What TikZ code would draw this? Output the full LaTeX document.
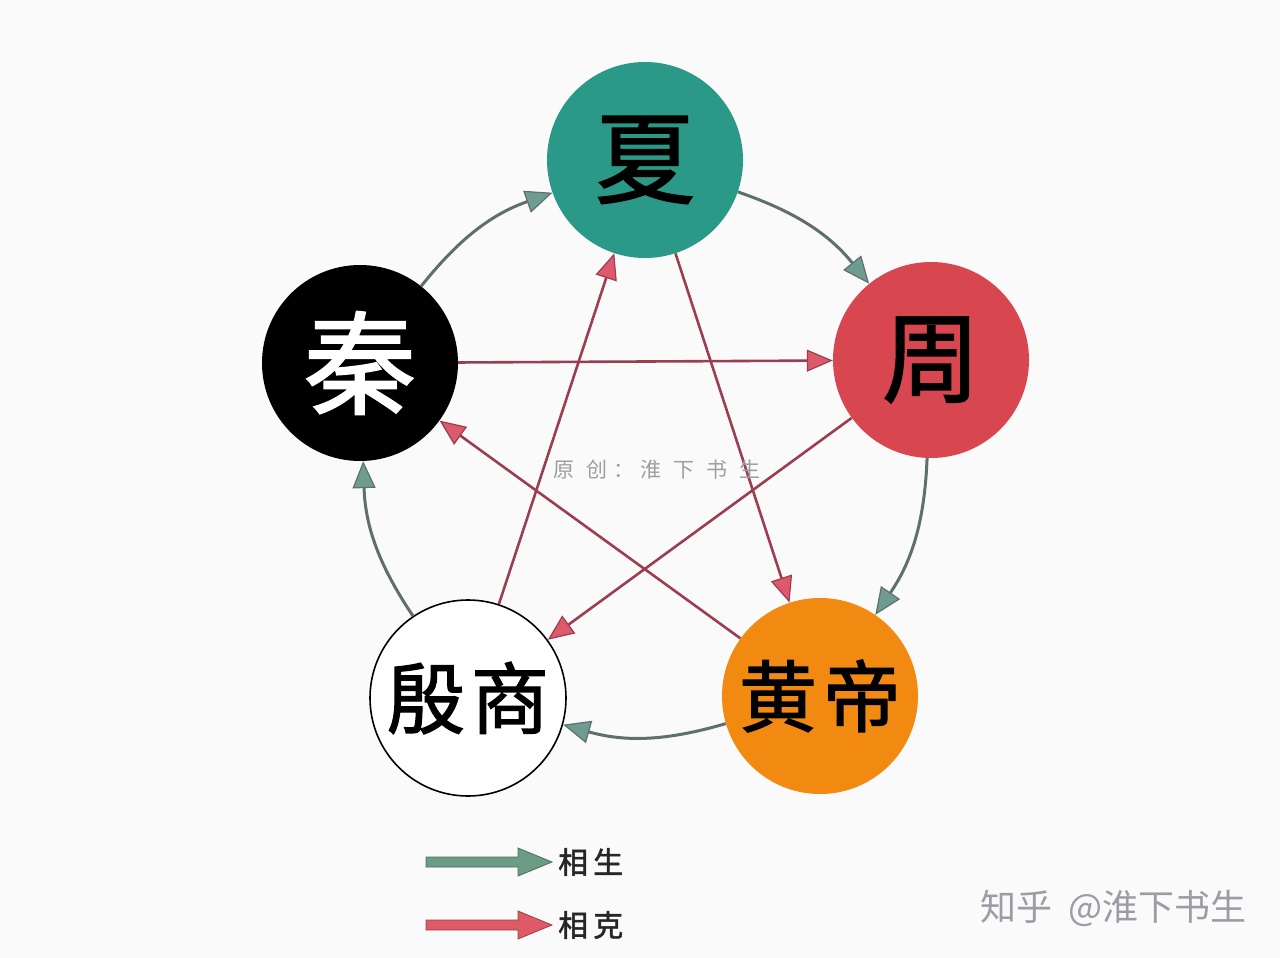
\documentclass[tikz,border=0pt]{standalone}
\usepackage{fontspec}
\newfontfamily\cjk{Noto Sans CJK SC}
\newfontfamily\cjkm[FakeBold=1.6]{Noto Sans CJK SC}
\usetikzlibrary{arrows.meta}
\definecolor{bgc}{HTML}{FAFAFB}
\definecolor{xiac}{HTML}{2A9987}
\definecolor{zhouc}{HTML}{D8474F}
\definecolor{huangc}{HTML}{F28A12}
\definecolor{genline}{HTML}{5E6F6D}
\definecolor{genfill}{HTML}{6E9D90}
\definecolor{keline}{HTML}{9A3E50}
\definecolor{kefill}{HTML}{DC5A6C}
\definecolor{legg}{HTML}{6C9C86}
\definecolor{legr}{HTML}{DE5A66}
\definecolor{wmark2}{HTML}{9C9CA4}
\tikzset{
  state/.style={circle, minimum size=196pt, inner sep=0pt},
  gen/.style={draw=genline, line width=3pt,
    -{Triangle[length=27pt,width=23pt,line width'=1.2pt,fill=genfill]}},
  ke/.style={draw=keline, line width=2.6pt,
    -{Triangle[length=26pt,width=22pt,line width'=1.2pt,fill=kefill]}},
  legtxt/.style={font=\cjkm\fontsize{30}{30}\selectfont, text=black!85, anchor=west, inner sep=0pt}
}
\begin{document}
\begin{tikzpicture}[x=1pt,y=-1pt]
\fill[bgc] (0,0) rectangle (1280,958);
\useasboundingbox (0,0) rectangle (1280,958);

\node[state, fill=xiac, text=black, font=\cjkm\fontsize{100}{100}\selectfont] (xia) at (645,160) {夏};
\node[state, fill=zhouc, text=black, font=\cjkm\fontsize{98}{98}\selectfont] (zhou) at (931,360) {周};
\node[state, fill=huangc, text=black, font=\cjkm\fontsize{78}{78}\selectfont] (huang) at (820,696) {黄\hspace{6pt}帝};
\node[state, fill=white, draw=black, line width=1.6pt, text=black, font=\cjkm\fontsize{78}{78}\selectfont] (yin) at (468,698) {殷\hspace{6pt}商};
\node[state, fill=black, text=white, font=\cjkm\fontsize{112}{112}\selectfont] (qin) at (360,363) {秦};

% sheng (generating) cycle
\draw[gen] (qin) to[bend left=16] (xia);
\draw[gen] (xia) to[bend left=16] (zhou);
\draw[gen] (zhou) to[bend left=16] (huang);
\draw[gen] (huang) to[bend left=16] (yin);
\draw[gen] (yin) to[bend left=16] (qin);

% ke (overcoming) star
\draw[ke] (qin) -- (zhou);
\draw[ke] (zhou) -- (yin);
\draw[ke] (yin) -- (xia);
\draw[ke] (xia) -- (huang);
\draw[ke] (huang) -- (qin);

% centre watermark
\node[font=\cjk\fontsize{21}{21}\selectfont, text=black!38, inner sep=0pt] (wm) at (657,470)
  {原\hspace{12pt}创\hspace{6pt}：\hspace{6pt}淮\hspace{12pt}下\hspace{12pt}书\hspace{12pt}生};

% legend
\draw[fill=legg, draw=legg!70!black, line width=0.8pt]
  (426,857) -- (518,857) -- (518,848) -- (552,862) -- (518,876) -- (518,867) -- (426,867) -- cycle;
\node[legtxt] (lsheng) at (558,862) {相\hspace{5pt}生};
\draw[fill=legr, draw=legr!70!black, line width=0.8pt]
  (426,920) -- (518,920) -- (518,911) -- (552,925) -- (518,939) -- (518,930) -- (426,930) -- cycle;
\node[legtxt] (lke) at (558,925) {相\hspace{5pt}克};

% corner watermark
\node[font=\cjk\fontsize{36}{36}\selectfont, text=wmark2, anchor=east, inner sep=0pt] (zh) at (1247,908) {知乎\hspace{16pt}@淮下书生};
\end{tikzpicture}
\end{document}
